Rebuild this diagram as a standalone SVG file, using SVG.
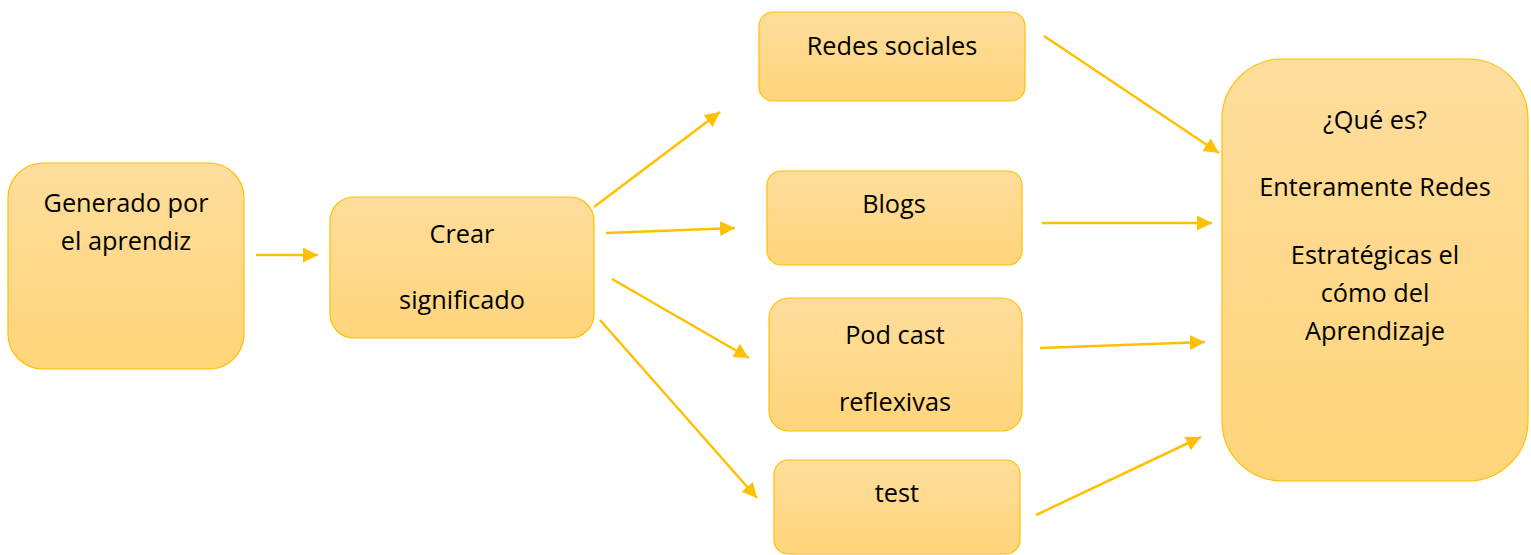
<svg xmlns="http://www.w3.org/2000/svg" width="1531" height="555" viewBox="0 0 1531 555">
<defs>
<linearGradient id="g" x1="0" y1="0" x2="0" y2="1">
<stop offset="0" stop-color="#FEDD9C"/>
<stop offset="1" stop-color="#FFD57A"/>
</linearGradient>
<marker id="ah" viewBox="0 0 10 10" refX="10" refY="5" markerWidth="6" markerHeight="6" markerUnits="strokeWidth" orient="auto">
<path d="M0,0 L10,5 L0,10 z" fill="#FFC000"/>
</marker>
<style>
.box{fill:url(#g);stroke:#FFC000;stroke-width:1.2}
.t{font-family:"Open Sans","Noto Sans","Liberation Sans",sans-serif;font-size:25.3px;fill:#000;text-anchor:middle}
.c line{stroke:#FFC000;stroke-width:2.5;marker-end:url(#ah)}
</style>
</defs>
<rect width="1531" height="555" fill="#fff"/>
<g id="n1"><rect class="box" x="8" y="163" width="236" height="206" rx="35"/>
<text class="t" x="126" y="212">Generado por</text><text class="t" x="126" y="250">el aprendiz</text></g>
<g id="n2"><rect class="box" x="330" y="197" width="264" height="141" rx="24"/>
<text class="t" x="462" y="243">Crear</text><text class="t" x="462" y="309">significado</text></g>
<g id="n3"><rect class="box" x="759" y="12" width="266" height="89" rx="14"/>
<text class="t" x="892" y="55">Redes sociales</text></g>
<g id="n4"><rect class="box" x="767" y="171" width="255" height="94" rx="14"/>
<text class="t" x="894" y="213">Blogs</text></g>
<g id="n5"><rect class="box" x="769" y="298" width="253" height="133" rx="20"/>
<text class="t" x="895" y="344">Pod cast</text><text class="t" x="895" y="411">reflexivas</text></g>
<g id="n6"><rect class="box" x="774" y="460" width="246" height="94" rx="14"/>
<text class="t" x="897" y="502">test</text></g>
<g id="n7"><rect class="box" x="1222" y="59" width="306" height="422" rx="60"/>
<text class="t" x="1375" y="129">¿Qué es?</text>
<text class="t" x="1375" y="196">Enteramente Redes</text>
<text class="t" x="1375" y="264">Estratégicas el</text>
<text class="t" x="1375" y="302">cómo del</text>
<text class="t" x="1375" y="340">Aprendizaje</text></g>
<g id="connectors" class="c">
<line x1="256" y1="255" x2="318" y2="255"/>
<line x1="594" y1="207" x2="720" y2="112"/>
<line x1="606" y1="233" x2="735" y2="228"/>
<line x1="612" y1="279" x2="749" y2="358"/>
<line x1="600" y1="320" x2="757" y2="498"/>
<line x1="1044" y1="36" x2="1219" y2="153"/>
<line x1="1042" y1="223" x2="1212" y2="223"/>
<line x1="1040" y1="348" x2="1205" y2="342"/>
<line x1="1036" y1="515" x2="1201" y2="437"/>
</g>
</svg>
